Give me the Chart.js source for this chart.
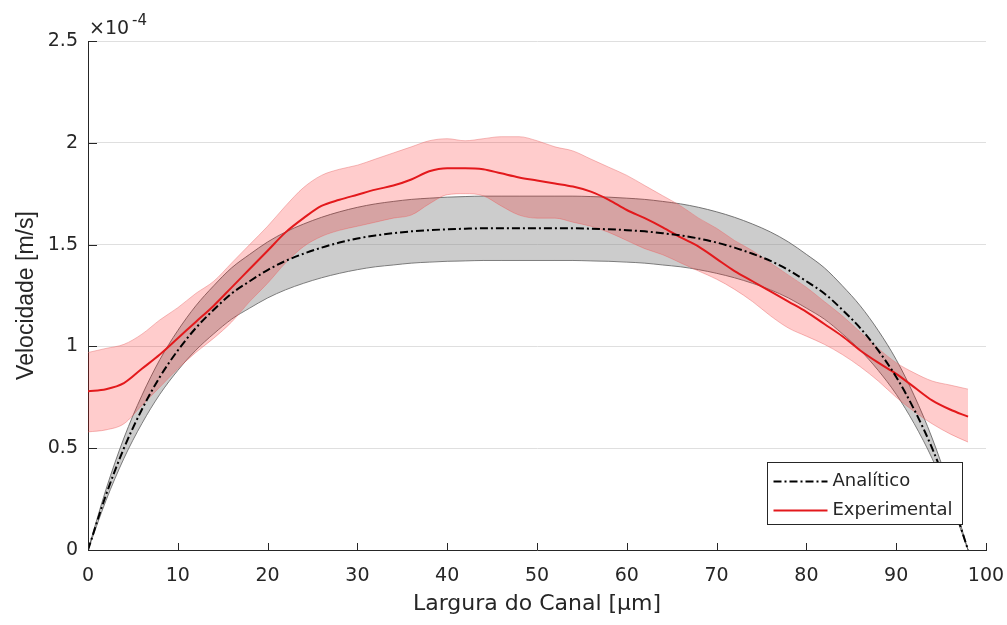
<!DOCTYPE html>
<html>
<head>
<meta charset="utf-8">
<script src="https://cdn.jsdelivr.net/npm/chart.js@4.4.0/dist/chart.umd.min.js"></script>
<style>
  body { margin: 0; background: #fff; }
  #wrap { width: 1007px; height: 625px; position: relative; }
</style>
</head>
<body>
<div id="wrap"><canvas id="grafico"></canvas></div>
<script>
// Largura do canal [um]
const larguras = [0, 2, 4, 6, 8, 10, 12, 14, 16, 18, 20, 22, 24, 26, 28, 30, 32, 34, 36, 38, 40, 42, 44, 46, 48,
                  50, 52, 54, 56, 58, 60, 62, 64, 66, 68, 70, 72, 74, 76, 78, 80, 82, 84, 86, 88, 90, 92, 94, 96, 98];

// Velocidades em unidades de 1e-4 m/s
const analitico = [0, 0.27, 0.50, 0.69, 0.85, 0.98, 1.09, 1.18, 1.26, 1.32, 1.375, 1.42, 1.455, 1.485, 1.51, 1.53, 1.545, 1.556, 1.565, 1.571, 1.575, 1.578, 1.58, 1.58, 1.58,
                   1.58, 1.58, 1.58, 1.578, 1.575, 1.571, 1.565, 1.556, 1.545, 1.53, 1.51, 1.485, 1.455, 1.42, 1.375, 1.32, 1.26, 1.18, 1.09, 0.98, 0.85, 0.69, 0.50, 0.27, 0];
const analiticoSup = [0, 0.297, 0.55, 0.759, 0.935, 1.078, 1.199, 1.298, 1.386, 1.452, 1.513, 1.562, 1.601, 1.634, 1.661, 1.683, 1.70, 1.712, 1.722, 1.728, 1.733, 1.736, 1.738, 1.738, 1.738,
                      1.738, 1.738, 1.738, 1.736, 1.733, 1.728, 1.722, 1.712, 1.70, 1.683, 1.661, 1.634, 1.601, 1.562, 1.513, 1.452, 1.386, 1.298, 1.199, 1.078, 0.935, 0.759, 0.55, 0.297, 0];
const analiticoInf = [0, 0.243, 0.45, 0.621, 0.765, 0.882, 0.981, 1.062, 1.134, 1.188, 1.238, 1.278, 1.31, 1.337, 1.359, 1.377, 1.391, 1.40, 1.409, 1.414, 1.418, 1.42, 1.422, 1.422, 1.422,
                      1.422, 1.422, 1.422, 1.42, 1.418, 1.414, 1.409, 1.40, 1.391, 1.377, 1.359, 1.337, 1.31, 1.278, 1.238, 1.188, 1.134, 1.062, 0.981, 0.882, 0.765, 0.621, 0.45, 0.243, 0];

const experimental = [0.78, 0.79, 0.82, 0.89, 0.96, 1.04, 1.12, 1.20, 1.29, 1.38, 1.47, 1.56, 1.63, 1.69, 1.72, 1.745, 1.77, 1.79, 1.82, 1.86, 1.875, 1.875, 1.87, 1.85, 1.83,
                      1.815, 1.80, 1.785, 1.76, 1.72, 1.67, 1.63, 1.585, 1.535, 1.49, 1.43, 1.37, 1.32, 1.27, 1.22, 1.17, 1.11, 1.05, 0.98, 0.92, 0.865, 0.80, 0.735, 0.69, 0.655];
const experimentalSup = [0.97, 0.99, 1.01, 1.06, 1.13, 1.19, 1.26, 1.32, 1.41, 1.50, 1.59, 1.69, 1.78, 1.84, 1.87, 1.89, 1.92, 1.95, 1.98, 2.01, 2.02, 2.01, 2.02, 2.03, 2.03,
                         2.01, 1.98, 1.96, 1.92, 1.88, 1.84, 1.79, 1.74, 1.69, 1.63, 1.58, 1.52, 1.47, 1.41, 1.35, 1.29, 1.22, 1.15, 1.07, 0.99, 0.92, 0.87, 0.83, 0.81, 0.79];
const experimentalInf = [0.58, 0.59, 0.62, 0.71, 0.80, 0.89, 0.97, 1.04, 1.12, 1.22, 1.31, 1.41, 1.49, 1.54, 1.57, 1.59, 1.61, 1.63, 1.645, 1.70, 1.745, 1.75, 1.74, 1.69, 1.645,
                         1.63, 1.63, 1.61, 1.59, 1.56, 1.52, 1.48, 1.45, 1.41, 1.37, 1.33, 1.28, 1.22, 1.15, 1.09, 1.05, 1.01, 0.96, 0.90, 0.83, 0.75, 0.68, 0.62, 0.57, 0.53];

const corTexto = '#262626';

function pontos(valores) {
    return larguras.map((x, i) => ({ x: x, y: valores[i] }));
}

// Marcas dos eixos para dentro, expoente e legenda (estilo MATLAB)
const extras = {
    id: 'extras',
    afterDraw(chart) {
        const { ctx, chartArea: a, scales: { x, y } } = chart;
        ctx.save();
        ctx.strokeStyle = corTexto;
        ctx.lineWidth = 1;
        ctx.beginPath();
        x.ticks.forEach(t => {
            const px = Math.round(x.getPixelForValue(t.value)) + 0.5;
            ctx.moveTo(px, a.bottom);
            ctx.lineTo(px, a.bottom - 7);
        });
        y.ticks.forEach(t => {
            const py = Math.round(y.getPixelForValue(t.value)) + 0.5;
            ctx.moveTo(a.left, py);
            ctx.lineTo(a.left + 9, py);
        });
        ctx.stroke();

        // multiplicador do eixo y
        ctx.fillStyle = corTexto;
        ctx.textBaseline = 'alphabetic';
        ctx.textAlign = 'left';
        ctx.font = '19px "DejaVu Sans"';
        ctx.fillText('\u00d710', a.left + 1, a.top - 7);
        ctx.font = '15px "DejaVu Sans"';
        ctx.fillText('-4', a.left + 44, a.top - 16);

        // legenda
        const bx = Math.round(a.right - 219) + 0.5, by = Math.round(a.bottom - 88) + 0.5;
        const bw = 195, bh = 62;
        ctx.fillStyle = '#fff';
        ctx.fillRect(bx, by, bw, bh);
        ctx.strokeStyle = corTexto;
        ctx.lineWidth = 1;
        ctx.strokeRect(bx, by, bw, bh);

        ctx.lineWidth = 2;
        ctx.strokeStyle = '#000';
        ctx.setLineDash([8, 3, 2, 3]);
        ctx.beginPath();
        ctx.moveTo(bx + 6, by + 19);
        ctx.lineTo(bx + 60, by + 19);
        ctx.stroke();
        ctx.setLineDash([]);
        ctx.strokeStyle = '#e3191c';
        ctx.beginPath();
        ctx.moveTo(bx + 6, by + 48);
        ctx.lineTo(bx + 60, by + 48);
        ctx.stroke();

        ctx.fillStyle = corTexto;
        ctx.font = '18px "DejaVu Sans"';
        ctx.textBaseline = 'middle';
        ctx.fillText('Anal\u00edtico', bx + 65, by + 19);
        ctx.fillText('Experimental', bx + 65, by + 48);
        ctx.restore();
    }
};

new Chart(document.getElementById('grafico'), {
    type: 'line',
    data: {
        datasets: [
            {
                label: 'Analítico',
                data: pontos(analitico),
                borderColor: '#000',
                borderWidth: 2,
                borderDash: [8, 3, 2, 3],
                pointRadius: 0,
                fill: false,
                order: 0
            },
            {
                label: 'Experimental',
                data: pontos(experimental),
                borderColor: '#e3191c',
                borderWidth: 2,
                pointRadius: 0,
                fill: false,
                order: 0
            },
            {
                label: 'Analítico sup',
                data: pontos(analiticoSup),
                borderColor: 'rgba(90,90,90,0.8)',
                borderWidth: 1,
                backgroundColor: 'rgba(128,128,128,0.4)',
                pointRadius: 0,
                fill: '+1',
                order: 2
            },
            {
                label: 'Analítico inf',
                data: pontos(analiticoInf),
                borderColor: 'rgba(90,90,90,0.8)',
                borderWidth: 1,
                pointRadius: 0,
                fill: false,
                order: 2
            },
            {
                label: 'Experimental sup',
                data: pontos(experimentalSup),
                borderColor: 'rgba(230,110,110,0.45)',
                borderWidth: 1,
                backgroundColor: 'rgba(255,0,0,0.2)',
                pointRadius: 0,
                fill: '+1',
                order: 1
            },
            {
                label: 'Experimental inf',
                data: pontos(experimentalInf),
                borderColor: 'rgba(230,110,110,0.45)',
                borderWidth: 1,
                pointRadius: 0,
                fill: false,
                order: 1
            }
        ]
    },
    options: {
        responsive: true,
        maintainAspectRatio: false,
        animation: false,
        elements: { line: { cubicInterpolationMode: 'monotone' } },
        layout: { padding: { top: 41, right: 21, left: 0, bottom: 0 } },
        plugins: {
            legend: { display: false },
            tooltip: { enabled: false }
        },
        scales: {
            x: {
                type: 'linear',
                min: 0,
                max: 100,
                afterFit(scale) {
                    scale.height = 75;
                    scale.paddingLeft = 0;
                    scale.paddingRight = 0;
                },
                grid: { display: false, drawTicks: false },
                border: { display: true, color: corTexto, width: 1 },
                ticks: {
                    stepSize: 10,
                    autoSkip: false,
                    maxRotation: 0,
                    padding: 15,
                    color: corTexto,
                    font: { family: 'DejaVu Sans', size: 19 }
                },
                title: {
                    display: true,
                    text: 'Largura do Canal [\u03bcm]',
                    color: corTexto,
                    font: { family: 'DejaVu Sans', size: 22 },
                    padding: { top: 0, bottom: 8 }
                }
            },
            y: {
                min: 0,
                max: 2.5,
                afterFit(scale) { scale.width = 88; },
                grid: { color: '#dfdfdf', lineWidth: 1, drawTicks: false },
                border: { display: true, color: corTexto, width: 1 },
                ticks: {
                    stepSize: 0.5,
                    padding: 10,
                    color: corTexto,
                    font: { family: 'DejaVu Sans', size: 19 },
                    callback: v => String(+v.toFixed(2))
                },
                title: {
                    display: true,
                    text: 'Velocidade [m/s]',
                    color: corTexto,
                    font: { family: 'Liberation Sans', size: 23 },
                    padding: { top: 13, bottom: 0 }
                }
            }
        }
    },
    plugins: [extras]
});
</script>
</body>
</html>
